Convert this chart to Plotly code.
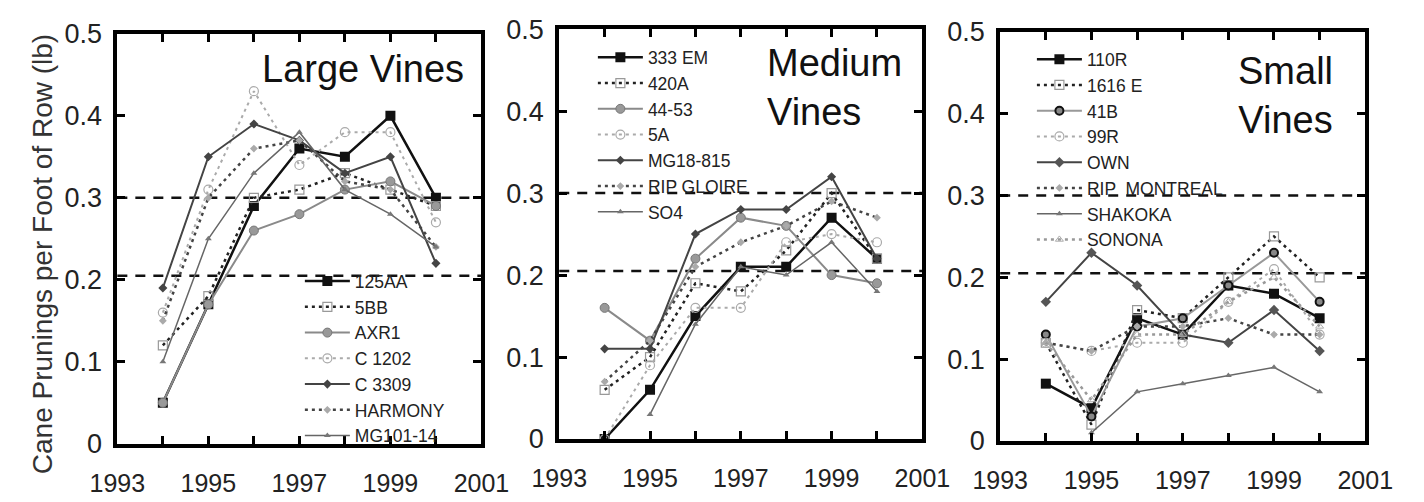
import plotly.graph_objects as go

# ---------------- data ----------------
years = [1994, 1995, 1996, 1997, 1998, 1999, 2000]
xtick_vals = [1993, 1994, 1995, 1996, 1997, 1998, 1999, 2000, 2001]
xtick_text = ["1993", "", "1995", "", "1997", "", "1999", "", "2001"]
ytick_vals = [0, 0.1, 0.2, 0.3, 0.4, 0.5]
ytick_text = ["0", "0.1", "0.2", "0.3", "0.4", "0.5"]
ref_levels = [0.3, 0.205]

panel_titles = ["Large Vines", "Medium<br>Vines", "Small<br>Vines"]
y_title = "Cane Prunings per Foot of Row (lb)"

large_names = ["125AA", "5BB", "AXR1", "C 1202", "C 3309", "HARMONY", "MG101-14"]
large_125AA = [0.05, 0.17, 0.29, 0.36, 0.35, 0.40, 0.30]
large_5BB = [0.12, 0.18, 0.30, 0.31, 0.33, 0.31, 0.29]
large_AXR1 = [0.05, 0.17, 0.26, 0.28, 0.31, 0.32, 0.29]
large_C1202 = [0.16, 0.31, 0.43, 0.34, 0.38, 0.38, 0.27]
large_C3309 = [0.19, 0.35, 0.39, 0.37, 0.33, 0.35, 0.22]
large_HARMONY = [0.15, 0.30, 0.36, 0.37, 0.32, 0.31, 0.24]
large_MG10114 = [0.10, 0.25, 0.33, 0.38, 0.31, 0.28, 0.24]

medium_names = ["333 EM", "420A", "44-53", "5A", "MG18-815", "RIP GLOIRE", "SO4"]
med_333EM = [0.00, 0.06, 0.15, 0.21, 0.21, 0.27, 0.22]
med_420A = [0.06, 0.10, 0.19, 0.18, 0.23, 0.30, 0.22]
med_4453 = [0.16, 0.12, 0.22, 0.27, 0.26, 0.20, 0.19]
med_5A = [0.00, 0.09, 0.16, 0.16, 0.24, 0.25, 0.24]
med_MG18815 = [0.11, 0.11, 0.25, 0.28, 0.28, 0.32, 0.22]
med_RIPGLOIRE = [0.07, 0.12, 0.21, 0.24, 0.26, 0.29, 0.27]
med_SO4 = [None, 0.03, 0.14, 0.21, 0.20, 0.24, 0.18]

small_names = ["110R", "1616 E", "41B", "99R", "OWN", "RIP  MONTREAL", "SHAKOKA", "SONONA"]
small_110R = [0.07, 0.04, 0.15, 0.13, 0.19, 0.18, 0.15]
small_1616E = [0.12, 0.02, 0.16, 0.15, 0.20, 0.25, 0.20]
small_41B = [0.13, 0.03, 0.14, 0.15, 0.19, 0.23, 0.17]
small_99R = [0.12, 0.11, 0.12, 0.12, 0.17, 0.21, 0.13]
small_OWN = [0.17, 0.23, 0.19, 0.13, 0.12, 0.16, 0.11]
small_RIPMONTREAL = [0.12, 0.11, 0.14, 0.14, 0.15, 0.13, 0.13]
small_SHAKOKA = [None, 0.01, 0.06, 0.07, 0.08, 0.09, 0.06]
small_SONONA = [0.12, 0.05, 0.13, 0.13, 0.17, 0.20, 0.14]

large_series = [large_125AA, large_5BB, large_AXR1, large_C1202, large_C3309, large_HARMONY, large_MG10114]
medium_series = [med_333EM, med_420A, med_4453, med_5A, med_MG18815, med_RIPGLOIRE, med_SO4]
small_series = [small_110R, small_1616E, small_41B, small_99R, small_OWN, small_RIPMONTREAL,
                small_SHAKOKA, small_SONONA]

# ---------------- styles ----------------
DOT = "3px,4px"
style_black_sq = dict(line=dict(color="#111", width=2.5), marker=dict(symbol="square", size=10, color="#111"))
style_dot_opensq = dict(line=dict(color="#222", width=2.5, dash=DOT),
                        marker=dict(symbol="square-open", size=9, color="#999", line=dict(width=1.2)))
style_grey_circle = dict(line=dict(color="#8a8a8a", width=2),
                         marker=dict(symbol="circle", size=9, color="#999", line=dict(color="#777", width=1)))
style_lgrey_dot_circle = dict(line=dict(color="#aaa", width=2, dash=DOT),
                              marker=dict(symbol="circle-open", size=9, color="#aaa", line=dict(width=1.2)))
style_dgrey_diamond = dict(line=dict(color="#444", width=2),
                           marker=dict(symbol="diamond", size=7, color="#444"))
style_dgrey_dot_diamond = dict(line=dict(color="#444", width=2.5, dash=DOT),
                               marker=dict(symbol="diamond", size=6, color="#aaa"))
style_grey_triangle = dict(line=dict(color="#666", width=1.5),
                           marker=dict(symbol="triangle-up", size=6, color="#777"))
style_black_circle = dict(line=dict(color="#999", width=2),
                          marker=dict(symbol="circle", size=8, color="#888", line=dict(color="#111", width=2)))
style_grey_dot_tri = dict(line=dict(color="#999", width=2.5, dash=DOT),
                          marker=dict(symbol="triangle-up-open", size=7, color="#aaa"))

large_styles = [style_black_sq, style_dot_opensq, style_grey_circle, style_lgrey_dot_circle,
                style_dgrey_diamond, style_dgrey_dot_diamond, style_grey_triangle]
medium_styles = large_styles
small_styles = [style_black_sq, style_dot_opensq, style_black_circle, style_lgrey_dot_circle,
                dict(line=dict(color="#444", width=2), marker=dict(symbol="diamond", size=8, color="#555")),
                style_dgrey_dot_diamond, style_grey_triangle, style_grey_dot_tri]

fig = go.Figure()

panels = [
    (large_names, large_series, large_styles, "x", "y", "legend"),
    (medium_names, medium_series, medium_styles, "x2", "y2", "legend2"),
    (small_names, small_series, small_styles, "x3", "y3", "legend3"),
]
for names, series, styles, xa, ya, lg in panels:
    for name, vals, st in zip(names, series, styles):
        fig.add_trace(go.Scatter(
            x=years, y=vals, mode="lines+markers", name=name,
            line=st["line"], marker=st["marker"],
            xaxis=xa, yaxis=ya, legend=lg, connectgaps=False,
        ))

FONT = "Arial"
W, H = 1424, 502
xdom = [[93 / W, 472 / W], [553 / W, 931 / W], [1012 / W, 1392 / W]]
ydom = [[1 - 456 / H, 1 - 20 / H], [1 - 451 / H, 1 - 15 / H], [1 - 453 / H, 1 - 18 / H]]

axis_common = dict(showline=True, linewidth=4, linecolor="#000", mirror="ticks",
                   ticks="inside", ticklen=8, tickwidth=2.5, tickcolor="#000",
                   showgrid=False, zeroline=False)

layout = dict(
    width=W, height=H, margin=dict(l=0, r=0, t=0, b=0),
    plot_bgcolor="white", paper_bgcolor="white",
    font=dict(family=FONT, color="#222"),
    shapes=[], annotations=[],
)
for i in range(3):
    sfx = "" if i == 0 else str(i + 1)
    layout["xaxis" + sfx] = dict(axis_common, domain=xdom[i], range=[1993, 2001],
                                 tickvals=xtick_vals, ticktext=xtick_text,
                                 tickfont=dict(family=FONT, size=25, color="#222"),
                                 anchor="y" + sfx, ticklabelstandoff=14)
    layout["yaxis" + sfx] = dict(axis_common, domain=ydom[i], range=[0, 0.5],
                                 tickvals=ytick_vals, ticktext=ytick_text,
                                 tickfont=dict(family=FONT, size=27, color="#222"),
                                 anchor="x" + sfx, ticklabelstandoff=6)
    for lvl in ref_levels:
        layout["shapes"].append(dict(type="line", xref="x" + sfx + " domain", x0=0, x1=1,
                                     yref="y" + sfx, y0=lvl, y1=lvl,
                                     line=dict(color="#111", width=2.5, dash="10px,8px"),
                                     layer="below"))

leg_common = dict(bgcolor="rgba(0,0,0,0)", borderwidth=0,
                  font=dict(family=FONT, size=17.5, color="#222"),
                  xanchor="left", yanchor="top", tracegroupgap=0, itemwidth=45)
layout["legend"] = dict(leg_common, x=283 / W, y=1 - 264 / H)
layout["legend2"] = dict(leg_common, x=588 / W, y=1 - 26 / H)
layout["legend3"] = dict(leg_common, x=1045 / W, y=1 - 28 / H)

layout["annotations"] += [
    dict(text=panel_titles[0], xref="paper", yref="paper", x=456 / W, y=1 - 57 / H,
         xanchor="right", yanchor="middle", showarrow=False, font=dict(family=FONT, size=38, color="#111")),
    dict(text=panel_titles[1], xref="paper", yref="paper", x=767 / W, y=1 - 77 / H, align="left",
         xanchor="left", yanchor="middle", showarrow=False, font=dict(family=FONT, size=38, color="#111")),
    dict(text=panel_titles[2], xref="paper", yref="paper", x=1309 / W, y=1 - 86 / H, align="center",
         xanchor="center", yanchor="middle", showarrow=False, font=dict(family=FONT, size=38, color="#111")),
    dict(text=y_title, xref="paper", yref="paper", x=15 / W, y=1 - 254 / H, textangle=-90,
         xanchor="center", yanchor="middle", showarrow=False, font=dict(family=FONT, size=28, color="#333")),
]

fig.update_layout(layout)
fig.write_html("out.html")
